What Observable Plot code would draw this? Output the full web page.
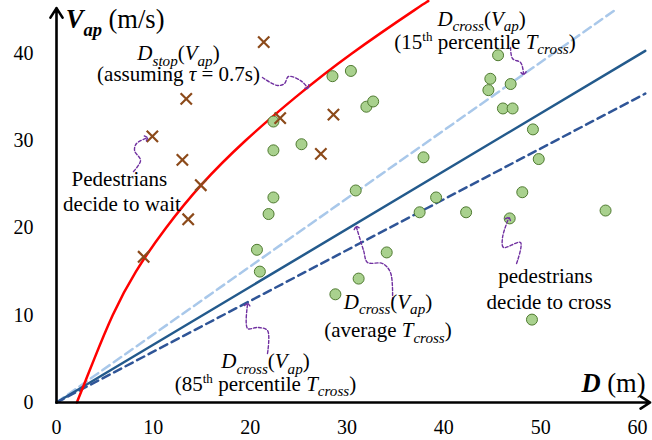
<!DOCTYPE html>
<html><head><meta charset="utf-8">
<script src="https://cdn.jsdelivr.net/npm/d3@7"></script>
<script src="https://cdn.jsdelivr.net/npm/@observablehq/plot@0.6"></script>
<style>body{margin:0;background:#fff}</style>
</head><body><div id="chart"></div>
<script>
// ---- data ----
const xTicks = [0, 10, 20, 30, 40, 50, 60];
const yTicks = [0, 10, 20, 30, 40];

// pedestrians decided to wait (crosses)
const crossD = [21.4, 13.4, 9.9, 13.0, 14.9, 23.1, 27.3, 28.6, 13.6, 9.0];
const crossV = [41.3, 34.8, 30.5, 27.8, 24.9, 32.6, 28.5, 33.0, 21.0, 16.7];

// pedestrians decided to cross (circles)
const circD = [20.7,21.0,21.9,22.4,22.4,22.4,25.3,28.5,30.4,32.0,32.7,30.9,28.8,31.2,34.1,37.5,37.9,39.2,42.3,44.6,44.8,45.6,46.9,46.1,47.1,46.8,48.1,49.2,49.8,49.1,56.7];
const circV = [17.5,15.0,21.6,23.5,28.9,32.2,29.6,37.4,38.0,33.9,34.5,24.3,12.4,14.2,17.2,21.8,28.1,23.5,21.8,35.8,37.1,39.8,36.5,33.7,33.7,21.1,24.1,31.3,27.9,9.5,22.0];

// D_stop(V_ap) curve
const stopV = [0, 2.5, 5, 10, 15, 20, 25, 30, 35, 40, 45, 46];
const stopD = [2.1, 3.0, 3.9, 5.8, 8.2, 11.3, 15.0, 19.5, 24.7, 30.5, 37.0, 38.4];

// D_cross lines
const cross15D = [0, 57.7], cross15V = [0, 45.0];
const crossAvgD = [0, 60.8], crossAvgV = [0, 40.3];
const cross85D = [0, 60.8], cross85V = [0, 35.4];

// annotation squiggles [D, V]
const annStop = [[21.27,37.25],[22.82,36.33],[23.55,36.56],[23.96,37.36],[25.20,36.90],[25.92,36.10]];
const annWait = [[7.95,26.48],[8.68,27.74],[8.06,28.88],[8.26,29.68],[9.3,30.3]];
const ann15 = [[46.89,40.69],[47.09,39.43],[47.92,38.97],[48.13,38.40],[48.23,37.71]];
const ann85 = [[21.79,5.62],[21.79,8.25],[20.76,8.60],[19.73,8.48],[19.73,11.23]];
const annAvg = [[34.70,11.69],[34.49,14.90],[33.67,15.93],[32.12,16.05],[31.71,17.42],[30.98,20.06]];
const annCross = [[47.51,15.93],[47.92,18.34],[46.16,17.77],[46.06,18.91],[46.68,21.09]];

// labels
const labelText = [
  "*D*_{stop}(*V*_{ap})", "(assuming *τ* = 0.7s)",
  "Pedestrians", "decide to wait",
  "*D*_{cross}(*V*_{ap})", "(15^{th} percentile *T*_{cross})",
  "*D*_{cross}(*V*_{ap})", "(85^{th} percentile *T*_{cross})",
  "*D*_{cross}(*V*_{ap})", "(average *T*_{cross})",
  "pedestrians", "decide to cross"
];
const labelD = [12.6, 12.6, 6.5, 6.76, 43.9, 44.25, 21.58, 21.58, 34.23, 34.23, 50.5, 50.86];
const labelV = [39.2, 36.8, 24.87, 22.0, 43.2, 40.57, 3.90, 1.375, 10.77, 7.45, 13.64, 10.77];

const yTitle = "!V!_b{ap} (m/s)";
const xTitle = "!D! (m)";
const yTitlePos = {D: 0.95, V: 42.87};
const xTitlePos = {D: 60.83, V: 1.15};
const axisEnd = {D: 61.3, V: 45.2};

// ---- build tables ----
const crosses = crossD.map((d, i) => ({D: d, V: crossV[i]}));
const circles = circD.map((d, i) => ({D: d, V: circV[i]}));
const stopCurve = stopD.map((d, i) => ({D: d, V: stopV[i]}));
const mkLine = (Ds, Vs) => Ds.map((d, i) => ({D: d, V: Vs[i]}));
const anns = [annStop, annWait, ann15, ann85, annAvg, annCross]
  .flatMap((a, k) => a.map(p => ({D: p[0], V: p[1], k})));
const labels = labelText.map((t, i) => ({t, D: labelD[i], V: labelV[i]}));

const serif = "'Liberation Serif', 'Times New Roman', serif";

const chart = Plot.plot({
  width: 652, height: 440,
  marginLeft: 56, marginRight: 5.3, marginTop: 5, marginBottom: 38,
  x: {domain: [0, 61]},
  y: {domain: [0, 45.5]},
  style: {fontFamily: serif, background: "white", overflow: "visible", color: "black"},
  marks: [
    Plot.axisX(xTicks, {tickSize: 0, tickPadding: 17, fontSize: 20, label: null}),
    Plot.axisY(yTicks, {tickSize: 0, tickPadding: 23, fontSize: 20, label: null}),
    Plot.line(mkLine(cross15D, cross15V), {x: "D", y: "V", stroke: "#a9c8ea", strokeWidth: 2.5, strokeDasharray: "9,5"}),
    Plot.line(mkLine(crossAvgD, crossAvgV), {x: "D", y: "V", stroke: "#235a8c", strokeWidth: 2.5}),
    Plot.line(mkLine(cross85D, cross85V), {x: "D", y: "V", stroke: "#2f5597", strokeWidth: 2.5, strokeDasharray: "8,5"}),
    Plot.line(stopCurve, {x: "D", y: "V", curve: "natural", stroke: "#ff0000", strokeWidth: 2.5}),
    Plot.arrow([{x1: 0, y1: 0, x2: axisEnd.D, y2: 0}], {x1: "x1", y1: "y1", x2: "x2", y2: "y2", stroke: "black", strokeWidth: 2.6, headLength: 6.5, headAngle: 65}),
    Plot.arrow([{x1: 0, y1: 0, x2: 0, y2: axisEnd.V}], {x1: "x1", y1: "y1", x2: "x2", y2: "y2", stroke: "black", strokeWidth: 2.6, headLength: 6.5, headAngle: 65}),
    Plot.dot(circles, {x: "D", y: "V", r: 5.5, fill: "#a9d18e", stroke: "#4f7a30", strokeWidth: 1}),
    Plot.dot(crosses, {x: "D", y: "V", symbol: "times", r: 5.2, stroke: "#8c4a1a", strokeWidth: 2.2}),
    Plot.line(anns, {x: "D", y: "V", z: "k", curve: "catmull-rom", stroke: "#7030a0", strokeWidth: 1.4, strokeDasharray: "3,2", markerEnd: "arrow"}),
    Plot.text(labels, {x: "D", y: "V", text: "t", fontSize: 21, lineAnchor: "bottom", textAnchor: "middle", fill: "black", fontFamily: serif}),
    Plot.text([yTitlePos], {x: "D", y: "V", text: [yTitle], fontSize: 26.5, lineAnchor: "bottom", textAnchor: "start", fill: "black", fontFamily: serif}),
    Plot.text([xTitlePos], {x: "D", y: "V", text: [xTitle], fontSize: 26.5, lineAnchor: "bottom", textAnchor: "end", fill: "black", fontFamily: serif})
  ]
});

// ---- rich text post-processing (italic, sub/superscripts) ----
const NS = "http://www.w3.org/2000/svg";
function rich(el, str, fs) {
  while (el.firstChild) el.removeChild(el.firstChild);
  const re = /(\*[^*]+\*|![^!]+!|_b\{[^}]+\}|_\{[^}]+\}|\^\{[^}]+\}|[^*!_^]+)/g;
  let shift = 0;
  for (const m of str.match(re)) {
    const t = document.createElementNS(NS, "tspan");
    let content = m, target = 0, size = null, italic = false, bold = false;
    if (m[0] === "*") { content = m.slice(1, -1); italic = true; }
    else if (m[0] === "!") { content = m.slice(1, -1); italic = true; bold = true; }
    else if (m.startsWith("_b{")) { content = m.slice(3, -1); italic = true; bold = true; target = 0.28 * fs; size = 0.7 * fs; }
    else if (m.startsWith("_{")) { content = m.slice(2, -1); italic = true; target = 0.28 * fs; size = 0.72 * fs; }
    else if (m.startsWith("^{")) { content = m.slice(2, -1); target = -0.38 * fs; size = 0.62 * fs; }
    const dy = target - shift;
    if (dy) t.setAttribute("dy", dy.toFixed(2));
    shift = target;
    if (size) t.setAttribute("font-size", size.toFixed(2));
    if (italic) t.setAttribute("font-style", "italic");
    if (bold) t.setAttribute("font-weight", "bold");
    t.textContent = content;
    el.appendChild(t);
  }
}
chart.querySelectorAll("text").forEach(el => {
  const s = el.textContent;
  if (/[*!_^]/.test(s)) {
    const holder = el.closest("[font-size]");
    const fs = holder ? parseFloat(holder.getAttribute("font-size")) : 21;
    rich(el, s, fs);
  }
});

document.getElementById("chart").appendChild(chart);
</script></body></html>
